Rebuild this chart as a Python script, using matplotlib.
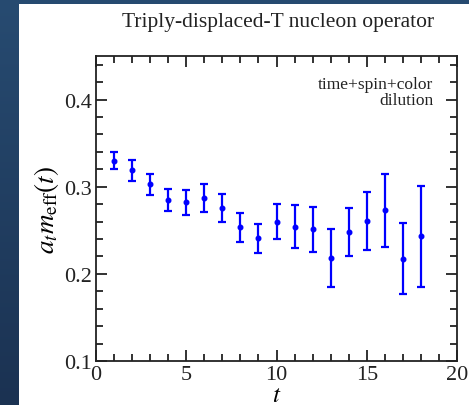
import numpy as np
import matplotlib.pyplot as plt
from matplotlib.patches import Rectangle
from matplotlib.ticker import MultipleLocator

# =========================
# DATA
# =========================
t = [1, 2, 3, 4, 5, 6, 7, 8, 9, 10, 11, 12, 13, 14, 15, 16, 17, 18]
m_eff = [0.330, 0.319, 0.303, 0.285, 0.282, 0.287, 0.276, 0.2535, 0.241,
         0.260, 0.254, 0.251, 0.218, 0.248, 0.261, 0.273, 0.2175, 0.243]
m_err = [0.010, 0.012, 0.012, 0.0125, 0.014, 0.016, 0.016, 0.0165, 0.0167,
         0.0205, 0.0247, 0.0255, 0.033, 0.0277, 0.0333, 0.042, 0.041, 0.058]

title = "Triply-displaced-T nucleon operator"
note = "time+spin+color\ndilution"

# =========================
# FIGURE
# =========================
W, H = 469, 406
plt.rcParams['font.family'] = ['Liberation Serif', 'DejaVu Serif']
plt.rcParams['mathtext.fontset'] = 'stix'

fig = plt.figure(figsize=(W / 100, H / 100), dpi=100)

# dark blue slide background with white panel
bg = fig.add_axes([0, 0, 1, 1], zorder=-10)
grad = np.linspace(0, 1, 256).reshape(-1, 1)
top = np.array([0x27, 0x4b, 0x71]) / 255
bot = np.array([0x1b, 0x32, 0x52]) / 255
img = top + (bot - top) * grad[:, :, None]
bg.imshow(img, aspect='auto', extent=[0, 1, 0, 1])
bg.add_patch(Rectangle((19 / W, 0), 1 - 19 / W, (H - 5) / H,
                       facecolor='white', edgecolor='none'))
bg.set_xlim(0, 1)
bg.set_ylim(0, 1)
bg.axis('off')

# plot axes
x0, x1 = 96, 457
y0, y1 = 57, 362
ax = fig.add_axes([x0 / W, 1 - y1 / H, (x1 - x0) / W, (y1 - y0) / H])

ax.errorbar(t, m_eff, yerr=m_err, fmt='o', color='#0000ff', ms=3.3,
            elinewidth=1.6, capsize=3, capthick=1.6)

ax.set_xlim(0, 20)
ax.set_ylim(0.1, 0.45)
ax.xaxis.set_major_locator(MultipleLocator(5))
ax.xaxis.set_minor_locator(MultipleLocator(1))
ax.yaxis.set_major_locator(MultipleLocator(0.1))
ax.yaxis.set_minor_locator(MultipleLocator(0.02))
ax.tick_params(which='both', direction='in', top=True, right=True,
               labelsize=16, width=1.3, colors='#222222')
ax.tick_params(which='major', length=8)
ax.tick_params(which='minor', length=5)
ax.tick_params(axis='x', pad=3)
ax.tick_params(axis='y', pad=3)
for s in ax.spines.values():
    s.set_linewidth(1.3)
    s.set_color('#222222')

ax.set_xlabel(r"$t$", fontsize=18, labelpad=0)
ax.set_ylabel(r"$a_t m_{\rm eff}(t)$", fontsize=19.5, labelpad=2)

ax.text(0.935, 0.935, note, transform=ax.transAxes, ha='right', va='top',
        fontsize=12.5, linespacing=1.0, color='#222222')

fig.text(278 / W, 1 - 23 / H, title, ha='center', va='center',
         fontsize=15.5, color='#222222')

fig.savefig("out.png", dpi=100)
